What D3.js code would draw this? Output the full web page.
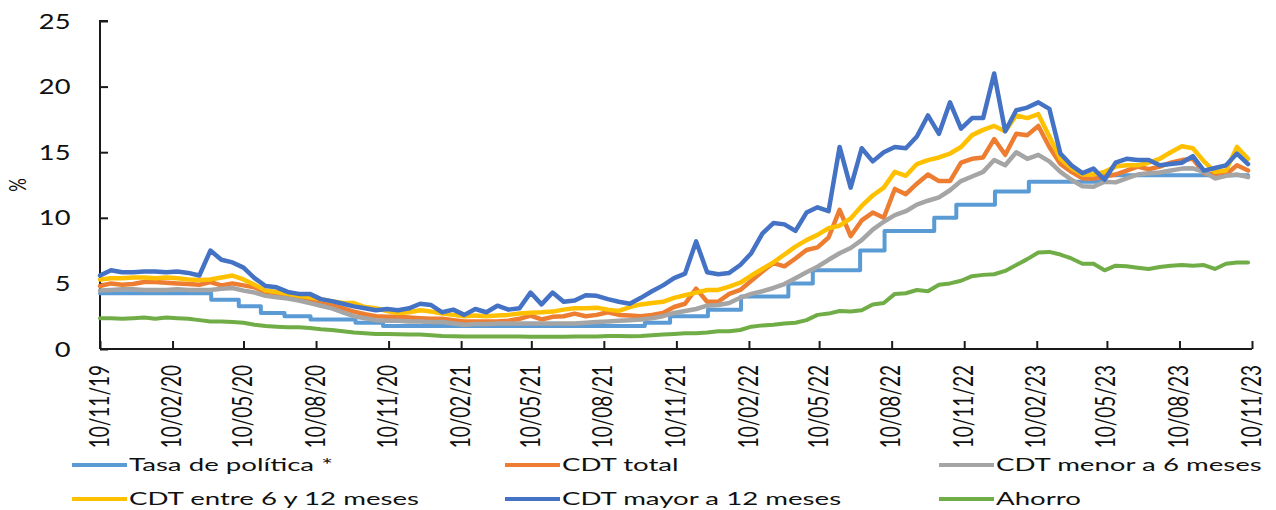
<!DOCTYPE html>
<html>
<head>
<meta charset="utf-8">
<script src="https://cdn.jsdelivr.net/npm/d3@7"></script>
<style>
  body { margin: 0; background: #fff; }
  svg { display: block; }
  text { font-family: Lato, "Open Sans", sans-serif; fill: #111; }
</style>
</head>
<body>
<svg id="chart" width="1276" height="510"></svg>
<script>
// ---------------- DATA ----------------
const seriesNames = ["Tasa de política *", "CDT total", "CDT menor a 6 meses",
                     "CDT entre 6 y 12 meses", "CDT mayor a 12 meses", "Ahorro"];

// observations every two weeks starting at this date
const startDate = "2019-11-10";
const stepDays = 14;

// policy rate: effective date of each change and new level
const policyDates = ["2019-11-10","2020-03-30","2020-05-04","2020-06-01","2020-07-01","2020-08-03",
  "2020-09-29","2020-11-03","2021-10-01","2021-11-02","2021-12-20","2022-01-31","2022-04-01",
  "2022-05-02","2022-07-01","2022-08-01","2022-10-03","2022-10-31","2022-12-19","2023-01-31",
  "2023-05-02","2023-11-05"];
const policyValues = [4.25,3.75,3.25,2.75,2.5,2.25,2.0,1.75,2.0,2.5,3.0,4.0,5.0,6.0,7.5,9.0,10.0,11.0,12.0,12.75,13.25,13.25];

const cdtTotal = [
  4.8,5.0,4.9,4.95,5.1,5.1,5.05,5.0,4.95,4.9,
  5.1,4.85,5.0,4.85,4.7,4.3,4.2,4.1,3.95,3.8,
  3.6,3.35,3.1,2.85,2.65,2.5,2.45,2.45,2.4,2.35,
  2.3,2.3,2.2,2.1,2.1,2.1,2.1,2.15,2.3,2.55,
  2.25,2.45,2.5,2.7,2.5,2.6,2.8,2.6,2.55,2.5,
  2.6,2.75,3.2,3.45,4.6,3.6,3.6,4.2,4.5,5.2,
  5.9,6.55,6.3,6.9,7.55,7.75,8.5,10.6,8.6,9.8,
  10.4,10.0,12.2,11.8,12.6,13.3,12.8,12.8,14.2,14.5,
  14.6,16.0,14.8,16.4,16.3,17.0,15.4,14.1,13.5,13.0,
  13.0,13.15,13.3,13.6,13.9,13.7,13.9,14.2,14.4,14.5,
  13.4,13.3,13.3,14.0,13.6];

const cdtMenor6 = [
  4.45,4.5,4.55,4.55,4.5,4.5,4.5,4.55,4.5,4.5,
  4.5,4.6,4.65,4.45,4.3,4.05,3.95,3.85,3.7,3.5,
  3.3,3.1,2.8,2.5,2.35,2.2,2.15,2.15,2.1,2.1,
  2.05,2.05,1.95,1.85,1.9,1.9,1.95,1.95,1.95,1.95,
  1.95,1.95,1.95,1.95,2.0,2.05,2.1,2.15,2.2,2.25,
  2.35,2.5,2.75,2.9,3.05,3.3,3.35,3.5,3.9,4.2,
  4.4,4.65,4.95,5.4,5.85,6.27,6.8,7.3,7.7,8.3,
  9.1,9.7,10.2,10.5,11.0,11.3,11.55,12.1,12.8,13.15,
  13.5,14.4,14.0,15.0,14.5,14.8,14.3,13.5,12.9,12.4,
  12.37,12.75,12.7,13.0,13.3,13.4,13.45,13.6,13.75,13.77,
  13.5,13.0,13.2,13.3,13.1];

const cdtEntre6y12 = [
  5.3,5.4,5.4,5.45,5.45,5.4,5.45,5.4,5.3,5.25,
  5.3,5.45,5.6,5.3,4.9,4.45,4.35,4.2,4.05,3.95,
  3.8,3.65,3.5,3.5,3.2,3.1,2.9,2.75,2.8,2.95,
  2.85,2.7,2.6,2.5,2.55,2.5,2.55,2.6,2.7,2.77,
  2.8,2.85,3.0,3.1,3.1,3.15,3.0,2.9,3.2,3.4,
  3.5,3.6,3.9,4.1,4.3,4.5,4.5,4.75,5.05,5.6,
  6.1,6.6,7.2,7.8,8.3,8.7,9.2,9.4,9.95,10.9,
  11.7,12.3,13.5,13.2,14.1,14.4,14.6,14.9,15.4,16.3,
  16.7,17.0,16.6,17.8,17.6,17.9,16.2,14.5,13.8,13.3,
  13.3,13.5,13.9,14.0,14.0,14.2,14.5,15.0,15.45,15.3,
  14.3,13.5,13.6,15.4,14.5];

const cdtMayor12 = [
  5.6,6.0,5.85,5.85,5.9,5.9,5.85,5.9,5.8,5.6,
  7.5,6.8,6.6,6.2,5.4,4.8,4.7,4.35,4.2,4.2,
  3.8,3.65,3.45,3.25,3.1,2.95,3.05,2.95,3.1,3.45,
  3.35,2.8,3.0,2.6,3.05,2.8,3.3,3.0,3.1,4.3,
  3.4,4.3,3.6,3.7,4.1,4.05,3.8,3.6,3.45,3.9,
  4.4,4.85,5.4,5.75,8.2,5.85,5.7,5.8,6.4,7.3,
  8.8,9.6,9.5,9.0,10.4,10.8,10.5,15.4,12.3,15.3,
  14.3,15.0,15.4,15.3,16.2,17.8,16.4,18.8,16.8,17.6,
  17.6,21.0,16.6,18.2,18.4,18.8,18.3,14.9,14.0,13.4,
  13.75,12.9,14.2,14.5,14.4,14.4,14.0,14.1,14.2,14.7,
  13.6,13.8,14.0,14.9,14.1];

const ahorro = [
  2.35,2.35,2.3,2.35,2.4,2.3,2.4,2.35,2.3,2.2,
  2.1,2.1,2.05,2.0,1.85,1.75,1.7,1.65,1.65,1.6,
  1.5,1.45,1.35,1.25,1.2,1.15,1.15,1.12,1.1,1.1,
  1.05,1.0,0.97,0.95,0.95,0.95,0.95,0.95,0.95,0.94,
  0.94,0.94,0.94,0.95,0.95,0.96,1.0,1.0,0.98,1.0,
  1.05,1.1,1.15,1.2,1.2,1.25,1.35,1.35,1.45,1.7,
  1.8,1.85,1.95,2.0,2.2,2.6,2.7,2.9,2.85,2.95,
  3.4,3.5,4.2,4.25,4.5,4.4,4.9,5.0,5.2,5.55,
  5.65,5.7,5.95,6.4,6.85,7.35,7.4,7.2,6.9,6.5,
  6.5,6.0,6.35,6.3,6.2,6.1,6.25,6.35,6.4,6.35,
  6.4,6.1,6.5,6.6,6.6];

const yTicks = [0, 5, 10, 15, 20, 25];
const xTickDates = ["2019-11-10","2020-02-10","2020-05-10","2020-08-10","2020-11-10",
  "2021-02-10","2021-05-10","2021-08-10","2021-11-10","2022-02-10","2022-05-10",
  "2022-08-10","2022-11-10","2023-02-10","2023-05-10","2023-08-10","2023-11-10"];
const xDomain = ["2019-11-10", "2023-11-10"];
const yLabel = "%";

// ---------------- STYLE / LAYOUT ----------------
const colors = ["#5B9BD5", "#ED7D31", "#A5A5A5", "#FFC000", "#4472C4", "#70AD47"];
const widths = [4, 4.5, 4.5, 4.5, 4.5, 4];
const plot = { left: 100, right: 1252, top: 21, bottom: 349 };

const parse = d3.utcParse("%Y-%m-%d");
const fmt = d3.utcFormat("%d/%m/%y");
const svg = d3.select("#chart");

const x = d3.scaleUtc().domain(xDomain.map(parse)).range([plot.left, plot.right]);
const y = d3.scaleLinear().domain([0, 25]).range([plot.bottom, plot.top]);

const start = parse(startDate);
const dateAt = i => d3.utcDay.offset(start, i * stepDays);

const line = d3.line().x(d => x(d[0])).y(d => y(d[1])).curve(d3.curveLinear);
const stepLine = d3.line().x(d => x(d[0])).y(d => y(d[1])).curve(d3.curveStepAfter);

// ---------------- AXES ----------------
const axisColor = "#1a1a1a";
const yAxis = d3.axisRight(y).tickValues(yTicks).tickSize(8).tickFormat("");
svg.append("g").attr("transform", `translate(${plot.left},0)`).call(yAxis)
  .call(g => g.select(".domain").attr("stroke", axisColor).attr("stroke-width", 2)
     .attr("d", `M8,${plot.top}H0V${plot.bottom}`))
  .call(g => g.selectAll(".tick line").attr("stroke", axisColor).attr("stroke-width", 2));

const xAxis = d3.axisTop(x).tickValues(xTickDates.map(parse)).tickSize(8).tickFormat("");
svg.append("g").attr("transform", `translate(0,${plot.bottom})`).call(xAxis)
  .call(g => g.select(".domain").attr("stroke", axisColor).attr("stroke-width", 2)
     .attr("d", `M${plot.left},0H${plot.right}`))
  .call(g => g.selectAll(".tick line").attr("stroke", axisColor).attr("stroke-width", 2));

// y tick labels
svg.append("g").selectAll("g").data(yTicks).join("g")
  .attr("transform", d => `translate(70.5,${y(d)}) scale(1.3,1)`)
  .append("text").attr("text-anchor", "end").attr("dy", "0.36em")
  .style("font-size", "21px").text(d => d);

// y axis title
svg.append("g").attr("transform", "translate(17.5,185) scale(1.35,1) rotate(-90)")
  .append("text").attr("text-anchor", "middle").attr("dy", "0.36em")
  .style("font-size", "17px").text(yLabel);

// x tick labels
svg.append("g").selectAll("g").data(xTickDates.map(parse)).join("g")
  .attr("transform", d => `translate(${x(d) - 1},365) scale(1.4,1) rotate(-90)`)
  .append("text").attr("text-anchor", "end").attr("dy", "0.36em")
  .style("font-size", "19px").text(d => fmt(d));

// ---------------- SERIES ----------------
const policyPts = policyDates.map((d, i) => [parse(d), policyValues[i]]);
const toPts = arr => arr.map((v, i) => [dateAt(i), v]);
const seriesData = [policyPts, toPts(cdtTotal), toPts(cdtMenor6), toPts(cdtEntre6y12), toPts(cdtMayor12), toPts(ahorro)];

seriesData.forEach((pts, k) => {
  svg.append("path").datum(pts)
    .attr("d", k === 0 ? stepLine : line)
    .attr("fill", "none")
    .attr("stroke", colors[k])
    .attr("stroke-width", widths[k])
    .attr("stroke-linejoin", "round")
    .attr("stroke-linecap", "round");
});

// ---------------- LEGEND ----------------
const legendCols = [72, 505, 939];
const legendRows = [465, 499];
const legend = svg.append("g");
seriesNames.forEach((name, k) => {
  const cx = legendCols[k % 3], cy = legendRows[Math.floor(k / 3)];
  legend.append("line").attr("x1", cx).attr("x2", cx + 55).attr("y1", cy).attr("y2", cy)
    .attr("stroke", colors[k]).attr("stroke-width", 4);
  legend.append("g").attr("transform", `translate(${cx + 57},${cy}) scale(1.58,1)`)
    .append("text").attr("dy", "0.36em").style("font-size", "17.5px").text(name);
});
</script>
</body>
</html>
